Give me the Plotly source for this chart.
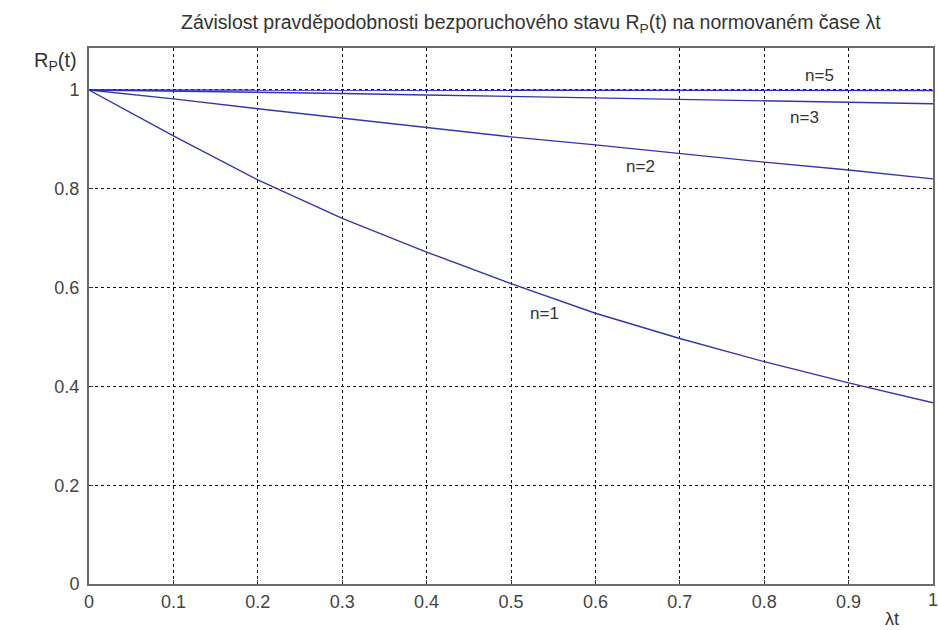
import plotly.graph_objects as go

# normalized time lambda*t
x_vals = [0.0, 0.1, 0.2, 0.3, 0.4, 0.5, 0.6, 0.7, 0.8, 0.9, 1.0]
r_n1 = [1.0, 0.907, 0.818, 0.740, 0.672, 0.608, 0.548, 0.497, 0.450, 0.407, 0.367]
r_n2 = [1.0, 0.982, 0.962, 0.943, 0.924, 0.905, 0.889, 0.871, 0.854, 0.838, 0.820]
r_n3 = [1.0, 0.998, 0.996, 0.993, 0.990, 0.987, 0.984, 0.981, 0.978, 0.975, 0.972]
r_n5 = [1.0, 1.0, 1.0, 1.0, 1.0, 1.0, 1.0, 1.0, 0.9995, 0.999, 0.999]

series = [("n=1", r_n1), ("n=2", r_n2), ("n=3", r_n3), ("n=5", r_n5)]
label_pos = {"n=1": (0.540, 0.547), "n=2": (0.653, 0.846), "n=3": (0.848, 0.945), "n=5": (0.866, 1.030)}
x_ticks = [0, 0.1, 0.2, 0.3, 0.4, 0.5, 0.6, 0.7, 0.8, 0.9, 1]
x_tick_text = ["0", "0.1", "0.2", "0.3", "0.4", "0.5", "0.6", "0.7", "0.8", "0.9", "1"]
y_ticks = [0, 0.2, 0.4, 0.6, 0.8, 1]

fig = go.Figure()
for name, ys in series:
    fig.add_trace(go.Scatter(x=x_vals, y=ys, mode="lines", name=name,
                             line=dict(color="#3535a8" if name != "n=5" else "#2a2ad0", width=1.4),
                             showlegend=False))
    lx, ly = label_pos[name]
    fig.add_annotation(x=lx, y=ly, text=name, showarrow=False, xref="x", yref="y",
                       font=dict(size=17, color="#333333"))

fig.add_annotation(text="Závislost pravděpodobnosti bezporuchového stavu R<sub>P</sub>(t) na normovaném čase λt",
                   xref="paper", yref="paper", x=0.524, y=1.0466, yanchor="middle", showarrow=False,
                   font=dict(size=19.5, color="#333333"))
fig.add_annotation(text="R<sub>P</sub>(t)", xref="paper", yref="paper", x=-0.0675, y=0.974,
                   yanchor="middle", showarrow=False, font=dict(size=20, color="#333333"))
fig.add_annotation(text="λt", xref="paper", yref="paper", x=0.962, y=-0.066, yanchor="middle",
                   showarrow=False, font=dict(size=18, color="#333333"))
# last x tick label sits on the figure edge (plotly would drop it), so draw it as text
fig.add_annotation(text=x_tick_text[-1], xref="x", yref="paper", x=x_ticks[-1], y=-0.03,
                   yanchor="middle", showarrow=False, font=dict(size=18, color="#444444"))

axis_common = dict(showgrid=True, gridcolor="#111111", griddash="3px,3px", gridwidth=1.2,
                   showline=True, linecolor="#6a6a6a", linewidth=2, mirror=True,
                   ticks="inside", ticklen=4, tickcolor="#333333", zeroline=False,
                   automargin=False, tickfont=dict(size=18, color="#444444"))

fig.update_layout(
    width=938, height=630,
    margin=dict(l=89, r=5, t=48, b=46),
    paper_bgcolor="white", plot_bgcolor="white",
    font=dict(family="Liberation Sans, Arial, sans-serif"),
    xaxis=dict(range=[0, 1], tickvals=x_ticks, ticktext=x_tick_text[:-1] + [""], **axis_common),
    yaxis=dict(range=[0, 1.085], tickvals=y_ticks, ticktext=[str(t) for t in y_ticks],
               ticklabelstandoff=4, **axis_common),
)

fig.write_html("out.html", config={"displayModeBar": False},
               post_script="document.body.style.margin='0';document.body.style.overflow='hidden';")
